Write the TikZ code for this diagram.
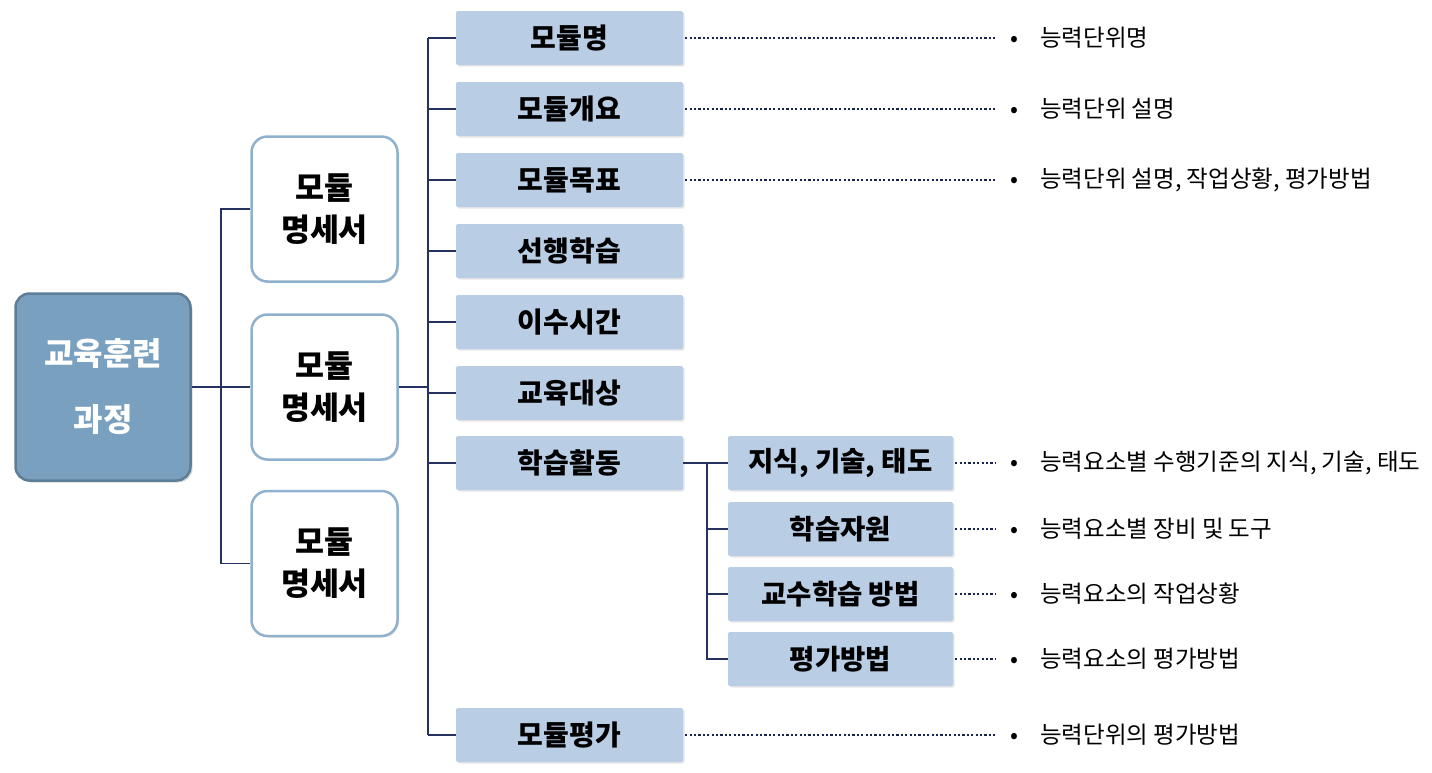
\documentclass[tikz,border=0pt]{standalone}
\usepackage{fontspec}
\setmainfont{Noto Sans CJK KR}
\usetikzlibrary{shadows}
\definecolor{rootfill}{HTML}{7AA0BF}
\definecolor{rootdraw}{HTML}{5E7E98}
\definecolor{specdraw}{HTML}{8FB1CD}
\definecolor{itemfill}{HTML}{B9CDE5}
\definecolor{linknavy}{HTML}{25315F}
\definecolor{leadnavy}{HTML}{1A2450}
\tikzset{
  rootbox/.style={draw=rootdraw, line width=2.5pt, fill=rootfill, rounded corners=14pt,
                  minimum width=175pt, minimum height=187pt, text=white, align=center,
                  font=\fontsize{32}{66}\selectfont\bfseries,
                  drop shadow={shadow xshift=2pt, shadow yshift=-2pt, opacity=0.25, fill=black!60}},
  specbox/.style={draw=specdraw, line width=2.5pt, fill=white, rounded corners=16pt,
                  minimum width=146pt, minimum height=145pt, align=center,
                  font=\fontsize{31.5}{42}\selectfont\bfseries,
                  drop shadow={shadow xshift=1.5pt, shadow yshift=-1.5pt, opacity=0.2, fill=black!50}},
  itembox/.style={fill=itemfill, minimum width=227pt, minimum height=54pt, inner sep=0pt,
                  rounded corners=2pt, font=\fontsize{28}{30}\selectfont\bfseries,
                  drop shadow={shadow xshift=1.5pt, shadow yshift=-1.5pt, opacity=0.2, fill=black!50}},
  subbox/.style={itembox, minimum width=225pt, font=\fontsize{27.5}{30}\selectfont\bfseries},
  note/.style={anchor=west, inner sep=0pt, font=\fontsize{23.5}{26}\selectfont},
  tree/.style={draw=linknavy, line width=1.3pt},
  leader/.style={draw=leadnavy, line width=2.4pt, dash pattern=on 2.2pt off 2.2pt, shorten >=15pt},
}
\newcommand{\notebullet}{\makebox[30pt][l]{•}}

\begin{document}
\begin{tikzpicture}[x=1pt, y=-1pt]
    \useasboundingbox (0,0) rectangle (1432,772);
    \node[rootbox] (root) at (103,387) {교육훈련\\과정};
    \node[specbox] (s1) at (324.5,209) {모듈\\명세서};
    \node[specbox] (s2) at (324.5,387) {모듈\\명세서};
    \node[specbox] (s3) at (324.5,563.5) {모듈\\명세서};
    \node[itembox] (m1) at (569.5,38) {모듈명};
    \node[itembox] (m2) at (569.5,109) {모듈개요};
    \node[itembox] (m3) at (569.5,180) {모듈목표};
    \node[itembox] (m4) at (569.5,251) {선행학습};
    \node[itembox] (m5) at (569.5,322) {이수시간};
    \node[itembox] (m6) at (569.5,393) {교육대상};
    \node[itembox] (m7) at (569.5,463) {학습활동};
    \node[itembox] (m8) at (569.5,735) {모듈평가};
    \node[subbox] (a1) at (840.5,463) {지식, 기술, 태도};
    \node[subbox] (a2) at (840.5,529) {학습자원};
    \node[subbox] (a3) at (840.5,594) {교수학습 방법};
    \node[subbox] (a4) at (840.5,659) {평가방법};
    \node[note] (d1) at (1010,38) {\notebullet 능력단위명};
    \node[note] (d2) at (1010,109) {\notebullet 능력단위 설명};
    \node[note] (d3) at (1010,180) {\notebullet 능력단위 설명, 작업상황, 평가방법};
    \node[note] (d4) at (1010,463) {\notebullet 능력요소별 수행기준의 지식, 기술, 태도};
    \node[note] (d5) at (1010,529) {\notebullet 능력요소별 장비 및 도구};
    \node[note] (d6) at (1010,594) {\notebullet 능력요소의 작업상황};
    \node[note] (d7) at (1010,659) {\notebullet 능력요소의 평가방법};
    \node[note] (d8) at (1010,735) {\notebullet 능력단위의 평가방법};
    \coordinate (rj) at (221,387);
    \coordinate (mj) at (428,387);
    \coordinate (aj) at (707,463);
    \draw[tree] (root.east) -- (rj);
    \draw[tree] (s1.west) -- (s1.west -| rj) -- (s3.west -| rj) -- (s3.west);
    \draw[tree] (rj) -- (s2.west);
    \draw[tree] (s2.east) -- (mj);
    \draw[tree] (m1.west -| mj) -- (m8.west -| mj);
    \foreach \m in {m1,m2,m3,m4,m5,m6,m7,m8}
      \draw[tree] (\m.west -| mj) -- (\m.west);
    \draw[tree] (m7.east) -- (a1.west);
    \draw[tree] (aj) -- (a4.west -| aj) -- (a4.west);
    \foreach \a in {a2,a3}
      \draw[tree] (\a.west -| aj) -- (\a.west);
    \foreach \m/\d in {m1/d1,m2/d2,m3/d3,m8/d8,a1/d4,a2/d5,a3/d6,a4/d7}
      \draw[leader] ([xshift=2pt]\m.east) -- (\d.west);
  \end{tikzpicture}
\end{document}
